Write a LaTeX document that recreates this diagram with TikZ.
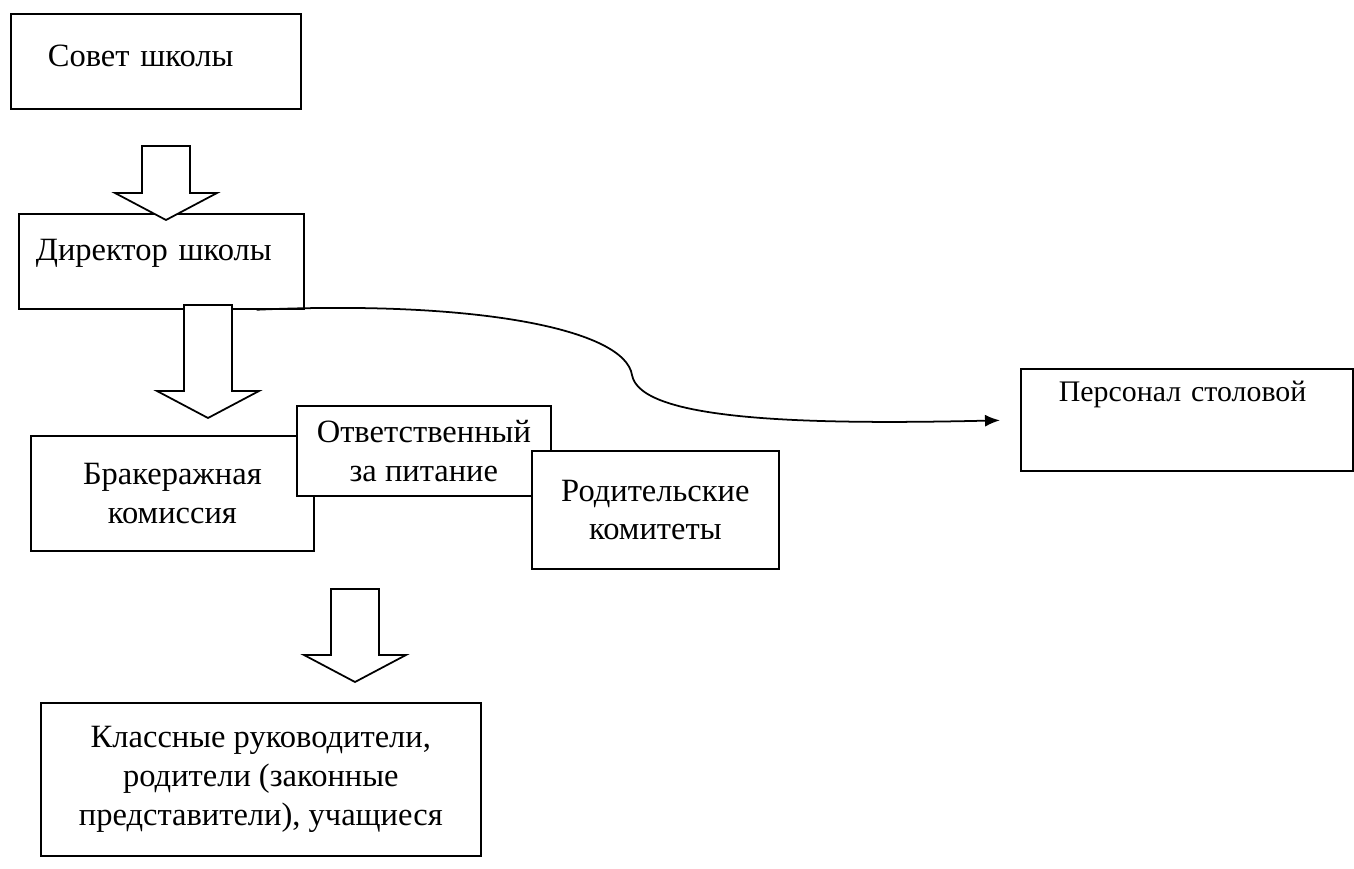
\documentclass[tikz,border=0pt]{standalone}
\usepackage{fontspec}
\setmainfont{Liberation Serif}
\usetikzlibrary{arrows.meta}

\begin{document}
\begin{tikzpicture}[
  x=0.02cm,
  y=-0.02cm,
  box/.style={
    draw,
    rectangle,
    fill=white,
    line width=1pt,
    inner sep=0pt,
    align=center,
    anchor=north west,
    font=\fontsize{18.5}{22}\selectfont
  },
  topbox/.style={
    box,
    align=left
  },
  hollow/.style={
    draw,
    fill=white,
    line width=1pt,
    line join=miter
  },
  >={Latex[length=0.3cm, width=0.24cm]}
]

\useasboundingbox (0,0) rectangle (1354,868);

% Top-left text boxes
\node[topbox, inner xsep=0.74cm, text width=4.32cm,
  text height=1.06cm, text depth=0.84cm] (council) at (10,13) {Совет школы};
\node[topbox, inner xsep=0.34cm, text width=5.02cm,
  text height=0.94cm, text depth=0.96cm] (director) at (18,213) {Директор школы};
\node[topbox, inner xsep=0.76cm, text width=5.12cm, font=\fontsize{17}{21}\selectfont,
  text height=0.66cm, text depth=1.38cm] (staff) at (1020,368) {Персонал столовой};

% Overlapping boxes
\node[box, minimum width=5.66cm, minimum height=2.3cm] (commission) at (30,435)
  {Бракеражная\\комиссия};
\node[box, minimum width=5.08cm, minimum height=1.8cm] (responsible) at (296,405)
  {Ответственный\\за питание};
\node[box, minimum width=4.94cm, minimum height=2.36cm] (committees) at (531,450)
  {Родительские\\комитеты};

% Bottom box
\node[box, minimum width=8.8cm, minimum height=3.06cm] (teachers) at (40,702)
  {Классные руководители,\\родители (законные\\представители), учащиеся};

% Hollow arrows
\foreach \ax/\atp/\abt in {166/146/220, 208/305/418, 355/589/682} {
  \draw[hollow] ({\ax-24},\atp) -- ({\ax+24},\atp) -- ({\ax+24},{\abt-27})
    -- ({\ax+51},{\abt-27}) -- (\ax,\abt) -- ({\ax-51},{\abt-27})
    -- ({\ax-24},{\abt-27}) -- cycle;
}

% Curved arrow
\draw[->, line width=1pt, shorten >=0.4cm]
  ([xshift=-0.96cm]director.south east)
  .. controls (480,300) and (625,330) .. (632,375)
  .. controls (640,420) and (800,425) .. (staff.west);

\end{tikzpicture}
\end{document}
